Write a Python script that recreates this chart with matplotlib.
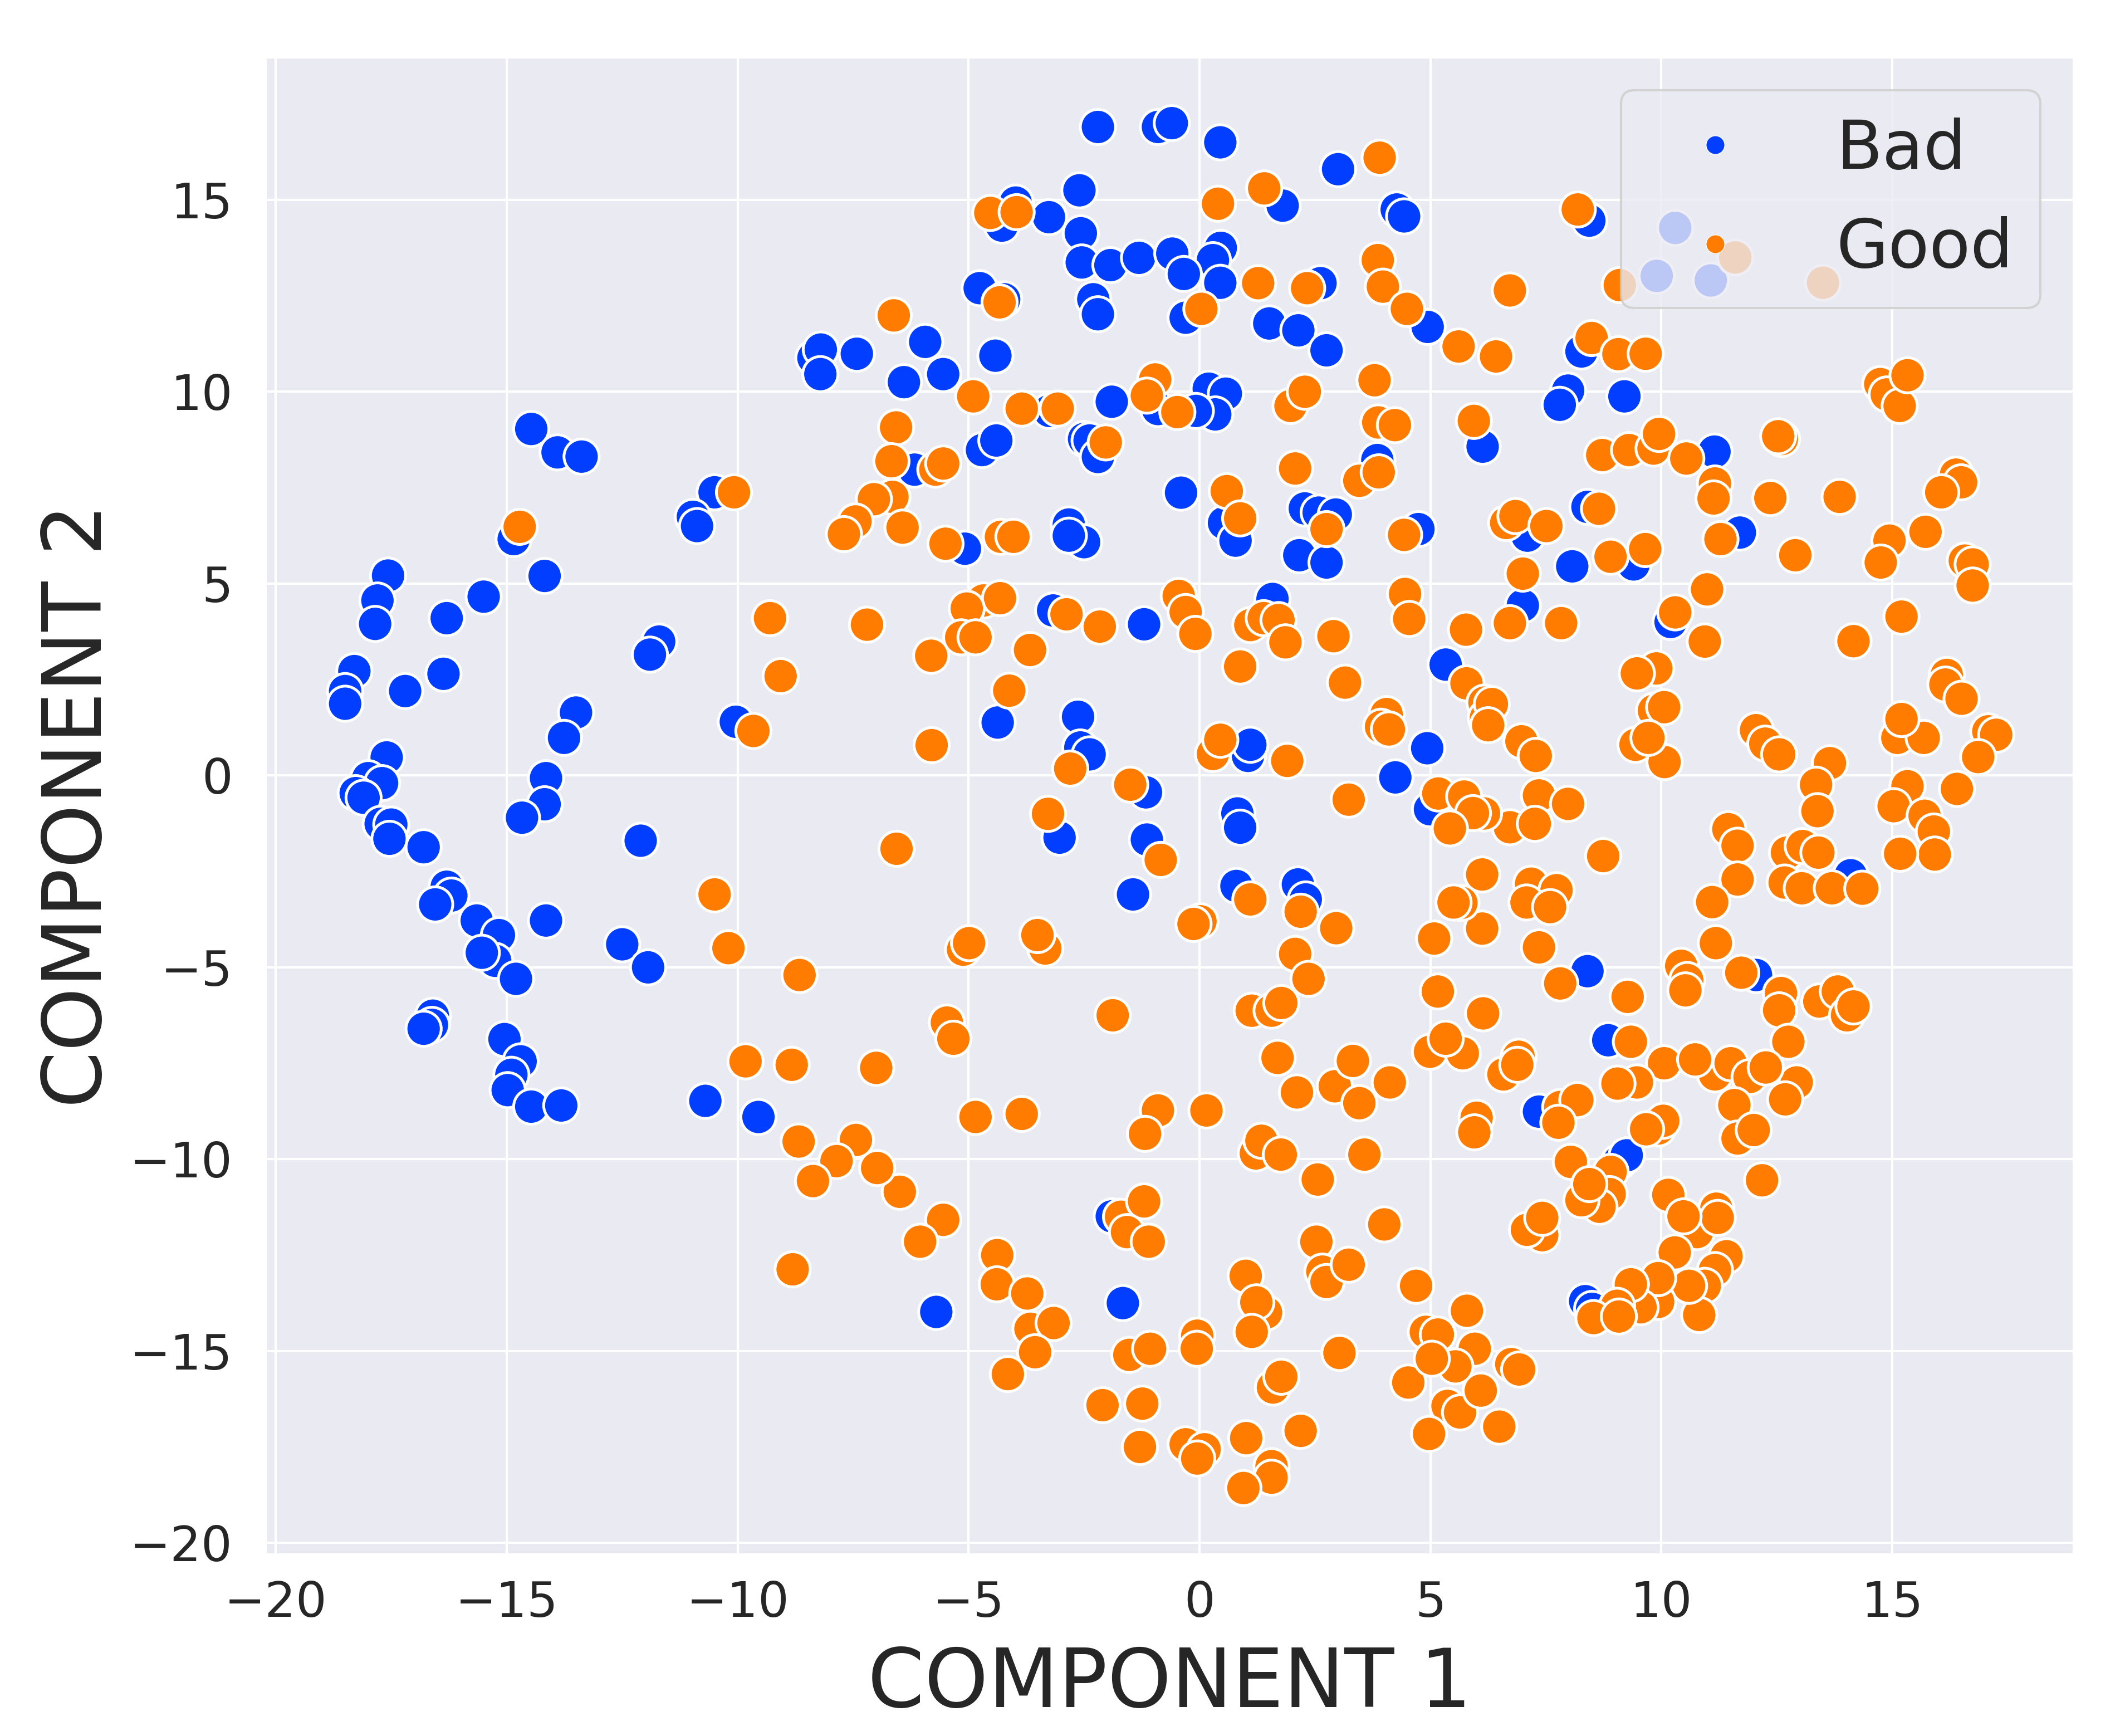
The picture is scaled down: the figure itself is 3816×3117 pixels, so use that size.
import matplotlib
matplotlib.use("Agg")
import matplotlib.pyplot as plt
import pandas as pd
import seaborn as sns
from matplotlib.lines import Line2D

# t-SNE embedding, (component 1, component 2)
bad_points = [
    (-2.2, 16.9), (-0.9, 16.9), (-0.6, 17.0), (0.45, 16.5), (3.0, 15.8), (-2.6, 15.25),
    (1.8, 14.85), (4.27, 14.75), (4.43, 14.57), (-4.28, 14.33), (-3.98, 14.93), (-3.26, 14.55),
    (-2.57, 14.13), (8.44, 14.46), (-2.55, 13.37), (-1.93, 13.3), (-1.31, 13.49), (-0.59, 13.6),
    (0.46, 13.75), (0.29, 13.43), (-0.34, 13.07), (0.45, 12.84), (-0.3, 11.93), (-2.3, 12.41),
    (-2.2, 12.02), (-4.76, 12.7), (-4.23, 12.41), (2.62, 12.83), (1.51, 11.78), (2.14, 11.6),
    (2.75, 11.08), (4.94, 11.69), (8.27, 11.05), (7.98, 10.03), (7.8, 9.66), (9.2, 9.88),
    (11.15, 8.44), (11.7, 6.33), (6.13, 8.57), (8.4, 7.0), (8.07, 5.45), (7.0, 4.43),
    (7.1, 6.25), (9.4, 5.5), (10.2, 4.0), (-5.94, 11.3), (-6.4, 10.25), (-5.55, 10.46),
    (-4.42, 10.94), (-8.36, 10.88), (-8.2, 11.1), (-8.21, 10.46), (-7.42, 10.99), (-1.9, 9.74),
    (0.2, 10.08), (0.57, 9.95), (0.34, 9.41), (-0.08, 9.5), (-0.9, 9.55), (-6.17, 7.97),
    (-4.71, 8.48), (-4.4, 8.73), (-2.5, 8.77), (-2.38, 8.73), (-2.2, 8.3), (-3.25, 9.5),
    (-0.4, 7.37), (0.53, 6.58), (0.78, 6.12), (2.28, 6.96), (2.58, 6.85), (2.95, 6.8),
    (3.85, 8.22), (4.74, 6.42), (2.16, 5.74), (2.75, 5.55), (-2.83, 6.54), (-2.5, 6.08),
    (-2.83, 6.25), (-5.08, 5.91), (-14.47, 9.03), (-13.9, 8.42), (-13.38, 8.31), (-10.5, 7.38),
    (-10.97, 6.74), (-10.88, 6.5), (-14.85, 6.16), (-17.57, 5.21), (-17.8, 4.56), (-17.85, 3.95),
    (-16.3, 4.1), (-15.5, 4.66), (-14.18, 5.2), (-18.3, 2.72), (-18.5, 2.2), (-18.5, 1.87),
    (-17.2, 2.2), (-16.37, 2.65), (-11.7, 3.49), (-11.9, 3.15), (-10.04, 1.4), (-13.5, 1.64),
    (-13.76, 0.98), (-17.6, 0.47), (-18.0, -0.07), (-17.7, -0.2), (-18.27, -0.46), (-18.1, -0.58),
    (-17.73, -1.26), (-17.5, -1.28), (-17.54, -1.65), (-16.8, -1.87), (-14.15, -0.07), (-14.18, -0.75),
    (-14.67, -1.1), (-12.1, -1.7), (-16.3, -2.9), (-16.2, -3.13), (-16.55, -3.36), (-15.65, -3.78),
    (-15.17, -4.16), (-15.25, -4.83), (-15.54, -4.62), (-14.8, -5.3), (-14.15, -3.78), (-12.5, -4.4),
    (-11.94, -5.0), (-16.6, -6.26), (-16.62, -6.5), (-16.8, -6.6), (-15.05, -6.87), (-14.7, -7.45),
    (-14.9, -7.8), (-14.98, -8.2), (-14.47, -8.63), (-13.82, -8.6), (-10.7, -8.48), (-9.55, -8.9),
    (-3.17, 4.3), (-1.2, 3.94), (1.58, 4.6), (5.33, 2.89), (4.93, 0.71), (4.24, -0.05),
    (4.99, -0.88), (-4.37, 1.38), (-2.63, 1.53), (-2.58, 0.73), (-2.38, 0.55), (-1.16, -0.44),
    (-3.03, -1.62), (-1.14, -1.67), (-1.44, -3.1), (1.05, 0.51), (1.1, 0.8), (0.82, -0.99),
    (0.88, -1.36), (0.8, -2.88), (2.13, -2.84), (2.3, -3.23), (14.1, -2.6), (8.4, -5.1),
    (8.85, -6.9), (12.05, -5.2), (7.35, -8.76), (9.08, -10.07), (9.25, -9.9), (8.35, -13.7),
    (8.5, -13.9), (-1.9, -11.49), (-5.7, -13.98), (-1.66, -13.75),
    (10.3, 14.27), (9.9, 13.02), (11.07, 12.9),
]

good_points = [
    # upper half
    (3.9, 16.1), (0.4, 14.9), (1.4, 15.3), (-4.53, 14.66), (-3.96, 14.68), (3.86, 13.43),
    (3.97, 12.74), (4.49, 12.16), (6.72, 12.64), (1.27, 12.83), (2.33, 12.7), (0.04, 12.16),
    (-4.33, 12.33), (-6.62, 11.99), (8.19, 14.75), (11.6, 13.5), (13.5, 12.84), (9.1, 12.78),
    (5.61, 11.18), (6.42, 10.92), (8.49, 11.4), (9.07, 10.98), (9.66, 10.99), (3.79, 10.3),
    (-0.96, 10.32), (-1.14, 9.9), (-4.9, 9.88), (-3.85, 9.56), (-3.07, 9.56), (-0.48, 9.47),
    (1.97, 9.63), (2.28, 10.0), (3.87, 9.2), (4.23, 9.13), (5.94, 9.24), (-6.57, 9.07),
    (-2.03, 8.68), (-5.72, 7.97), (-5.55, 8.13), (-6.67, 8.19), (-6.65, 7.26), (-7.05, 7.2),
    (-7.45, 6.62), (-7.7, 6.29), (-6.43, 6.46), (-5.5, 6.04), (-4.3, 6.22), (-4.03, 6.22),
    (-10.08, 7.38), (-14.72, 6.48), (-9.3, 4.1), (-7.2, 3.93), (-9.07, 2.59), (-9.66, 1.16),
    (-5.81, 3.12), (-5.8, 0.79), (-4.68, 4.56), (-4.32, 4.62), (-5.04, 4.35), (-5.16, 3.6),
    (-4.85, 3.6), (-3.67, 3.27), (-4.12, 2.21), (-2.88, 4.2), (-2.16, 3.88), (-0.45, 4.68),
    (-0.3, 4.26), (-0.09, 3.69), (-2.8, 0.18), (-3.28, -1.0), (-1.5, -0.24), (-0.84, -2.2),
    (-6.56, -1.91), (0.59, 7.41), (0.88, 6.7), (0.88, 2.84), (1.1, 3.92), (1.39, 4.1),
    (1.71, 4.05), (1.86, 3.47), (2.07, 8.0), (2.75, 6.42), (3.46, 7.68), (3.88, 7.9),
    (2.9, 3.63), (3.15, 2.42), (0.29, 0.56), (0.45, 0.93), (1.9, 0.38), (4.05, 1.6),
    (3.93, 1.27), (4.1, 1.2), (3.23, -0.63), (4.43, 6.27), (4.45, 4.73), (4.54, 4.08),
    (5.77, 3.8), (5.78, 2.4), (6.17, 1.9), (6.2, 1.5), (6.64, 6.58), (6.84, 6.76),
    (7.51, 6.5), (7.0, 5.26), (6.72, 3.97), (7.83, 3.97), (6.97, 0.89), (7.28, 0.51),
    (6.33, 1.86), (6.25, 1.31), (8.72, 8.35), (9.3, 8.48), (9.83, 8.52), (9.95, 8.9),
    (10.54, 8.26), (11.16, 7.61), (11.13, 7.22), (8.65, 6.95), (8.9, 5.7), (9.65, 5.9),
    (11.28, 6.16), (10.99, 4.85), (10.3, 4.25), (10.94, 3.49), (9.89, 2.79), (9.47, 2.66),
    (9.84, 1.69), (10.06, 1.78), (9.44, 0.8), (10.07, 0.35), (9.72, 0.98), (12.61, 8.77),
    (12.53, 8.84), (13.86, 7.26), (12.36, 7.23), (12.9, 5.74), (14.74, 10.2), (14.88, 9.93),
    (15.16, 9.63), (15.33, 10.43), (16.38, 7.84), (16.49, 7.64), (16.06, 7.38), (15.72, 6.35),
    (14.94, 6.12), (14.75, 5.55), (16.57, 5.6), (16.74, 5.5), (16.74, 4.95), (14.16, 3.5),
    (15.2, 4.14), (16.18, 2.62), (16.15, 2.37), (16.5, 2.0), (17.08, 1.15), (17.25, 1.06),
    (16.86, 0.48), (15.11, 0.98), (15.68, 0.98), (15.2, 1.47), (12.05, 1.18), (12.25, 0.83),
    (12.55, 0.55), (13.65, 0.32),
    # lower half, right side
    (16.4, -0.35), (15.33, -0.28), (15.03, -0.8), (15.7, -1.05), (15.9, -1.46), (15.92, -2.06),
    (15.17, -2.04), (13.35, -0.24), (13.38, -0.93), (12.72, -2.01), (13.06, -1.84), (13.4, -2.01),
    (12.67, -2.79), (13.04, -2.94), (13.69, -2.94), (14.35, -2.95), (11.45, -1.4), (11.65, -1.83),
    (11.65, -2.71), (11.1, -3.3), (11.18, -4.37), (10.43, -4.96), (10.56, -5.33), (10.52, -5.6),
    (11.73, -5.14), (12.59, -5.67), (12.55, -6.12), (13.42, -5.89), (13.82, -5.63), (14.02, -6.25),
    (14.16, -6.02), (12.75, -6.94), (12.93, -8.0), (12.68, -8.44), (11.16, -7.79), (11.5, -7.5),
    (11.91, -7.86), (12.26, -7.61), (11.58, -8.59), (11.65, -9.46), (12.0, -9.24), (12.18, -10.55),
    (10.06, -7.5), (10.73, -7.4), (9.93, -9.2), (10.04, -9.0), (9.67, -9.22), (9.47, -8.0),
    (9.05, -8.03), (9.34, -6.94), (9.27, -5.77), (8.74, -2.1), (7.81, -5.42), (7.35, -4.48),
    (7.18, -2.82), (7.73, -2.99), (7.08, -3.31), (7.59, -3.43), (7.35, -0.52), (7.98, -0.74),
    (6.72, -1.35), (7.26, -1.26), (6.16, -0.99), (6.12, -2.58), (6.12, -3.99), (6.14, -6.2),
    (6.91, -7.33), (5.17, -0.47), (5.73, -0.55), (5.92, -0.98), (5.42, -1.38), (5.67, -3.32),
    (5.5, -3.31), (5.08, -4.25), (5.16, -5.63), (4.99, -7.2), (5.7, -7.24), (5.33, -6.86),
    (6.58, -7.79), (6.88, -7.54), (7.81, -8.64), (8.18, -8.46), (7.77, -9.05), (6.0, -8.92),
    (5.95, -9.3), (8.04, -10.07), (8.9, -10.33), (8.88, -10.91), (8.66, -11.24), (8.27, -11.07),
    (8.44, -10.65), (10.15, -10.93), (7.42, -11.98), (7.09, -11.84), (7.42, -11.53), (10.77, -11.9),
    (11.19, -11.29), (11.22, -11.53), (10.48, -11.49), (10.29, -12.43), (11.41, -12.53), (11.16, -12.89),
    (10.94, -13.3), (10.82, -14.06), (10.6, -13.3), (9.93, -13.72), (9.93, -13.1), (9.55, -13.86),
    (9.34, -13.26), (9.04, -13.82), (8.53, -14.14), (9.08, -14.1), (6.75, -15.34), (6.92, -15.48),
    (6.49, -16.97),
    # lower half, middle and left
    (4.0, -11.7), (2.53, -12.15), (2.66, -12.93), (2.75, -13.2), (3.23, -12.75), (4.69, -13.3),
    (1.0, -13.04), (1.44, -14.0), (1.23, -13.73), (1.13, -14.5), (-1.7, -11.5), (-1.2, -11.1),
    (-1.57, -11.9), (-1.1, -12.15), (-5.55, -11.58), (-6.05, -12.15), (-6.49, -10.85), (-6.98, -10.23),
    (-4.38, -12.5), (-4.39, -13.26), (-3.73, -13.5), (-3.66, -14.42), (-3.16, -14.27), (-3.56, -15.03),
    (-4.15, -15.6), (-1.52, -15.1), (-1.07, -14.94), (-0.05, -14.6), (-0.06, -14.94), (1.59, -15.95),
    (1.77, -15.67), (3.03, -15.05), (-2.1, -16.41), (-1.24, -16.37), (-1.29, -17.5), (-0.3, -17.43),
    (0.11, -17.56), (-0.05, -17.8), (1.01, -17.27), (2.19, -17.08), (1.56, -18.0), (1.56, -18.3),
    (0.95, -18.57), (4.52, -15.82), (4.9, -14.5), (5.16, -14.57), (5.79, -13.95), (5.96, -14.94),
    (5.54, -15.4), (5.03, -15.2), (5.37, -16.43), (5.64, -16.6), (4.97, -17.16), (6.09, -16.03),
    (-4.85, -8.9), (-3.85, -8.82), (-0.9, -8.73), (-1.18, -9.34), (0.15, -8.73), (1.22, -9.85),
    (1.34, -9.52), (1.76, -9.88), (2.56, -10.53), (3.57, -9.88), (2.11, -8.26), (2.93, -8.1),
    (3.46, -8.54), (4.12, -8.0), (1.69, -7.36), (3.32, -7.44), (-5.12, -4.54), (-4.99, -4.37),
    (-3.34, -4.51), (-3.51, -4.16), (-1.88, -6.25), (-5.47, -6.44), (-5.33, -6.86), (1.13, -6.13),
    (1.56, -6.13), (1.77, -5.93), (1.1, -3.23), (2.19, -3.55), (2.96, -3.98), (0.02, -3.8),
    (-0.13, -3.87), (2.07, -4.65), (2.36, -5.3), (-10.5, -3.1), (-10.2, -4.5), (-8.66, -5.2),
    (-9.83, -7.45), (-8.83, -7.54), (-7.0, -7.62), (-8.68, -9.54), (-7.44, -9.5), (-7.86, -10.05),
    (-8.37, -10.57), (-8.81, -12.87),
]

labels = ["Bad", "Good"]

sns.set_theme(style="darkgrid")
plt.rcParams['font.family'] = ['DejaVu Sans']
colors = sns.color_palette("bright", 2)

df = pd.DataFrame(bad_points + good_points, columns=["x", "y"])
df["label"] = ["Bad"] * len(bad_points) + ["Good"] * len(good_points)

fig, ax = plt.subplots(figsize=(12.72, 10.39))
fig.subplots_adjust(left=0.1247, right=0.9759, bottom=0.1046, top=0.9673)

sns.scatterplot(data=df, x="x", y="y", hue="label", hue_order=labels, palette=colors,
                s=230, edgecolor="white", linewidth=1.2, legend=False, ax=ax)

ax.set_xlim(-20.235, 18.93)
ax.set_ylim(-20.3, 18.73)
ax.tick_params(axis='x', labelsize=21, pad=11, length=0)
ax.tick_params(axis='y', labelsize=21, pad=14, length=0)
ax.set_xlabel("COMPONENT 1", fontsize=35, labelpad=8)
ax.set_ylabel("COMPONENT 2", fontsize=35, labelpad=5)

handles = [Line2D([], [], marker='o', linestyle='', markersize=8, markerfacecolor=c,
                  markeredgecolor='white', markeredgewidth=0.3) for c in colors]
ax.legend(handles, labels, loc='upper right', fontsize=29)

fig.savefig("out.png", dpi=300)
